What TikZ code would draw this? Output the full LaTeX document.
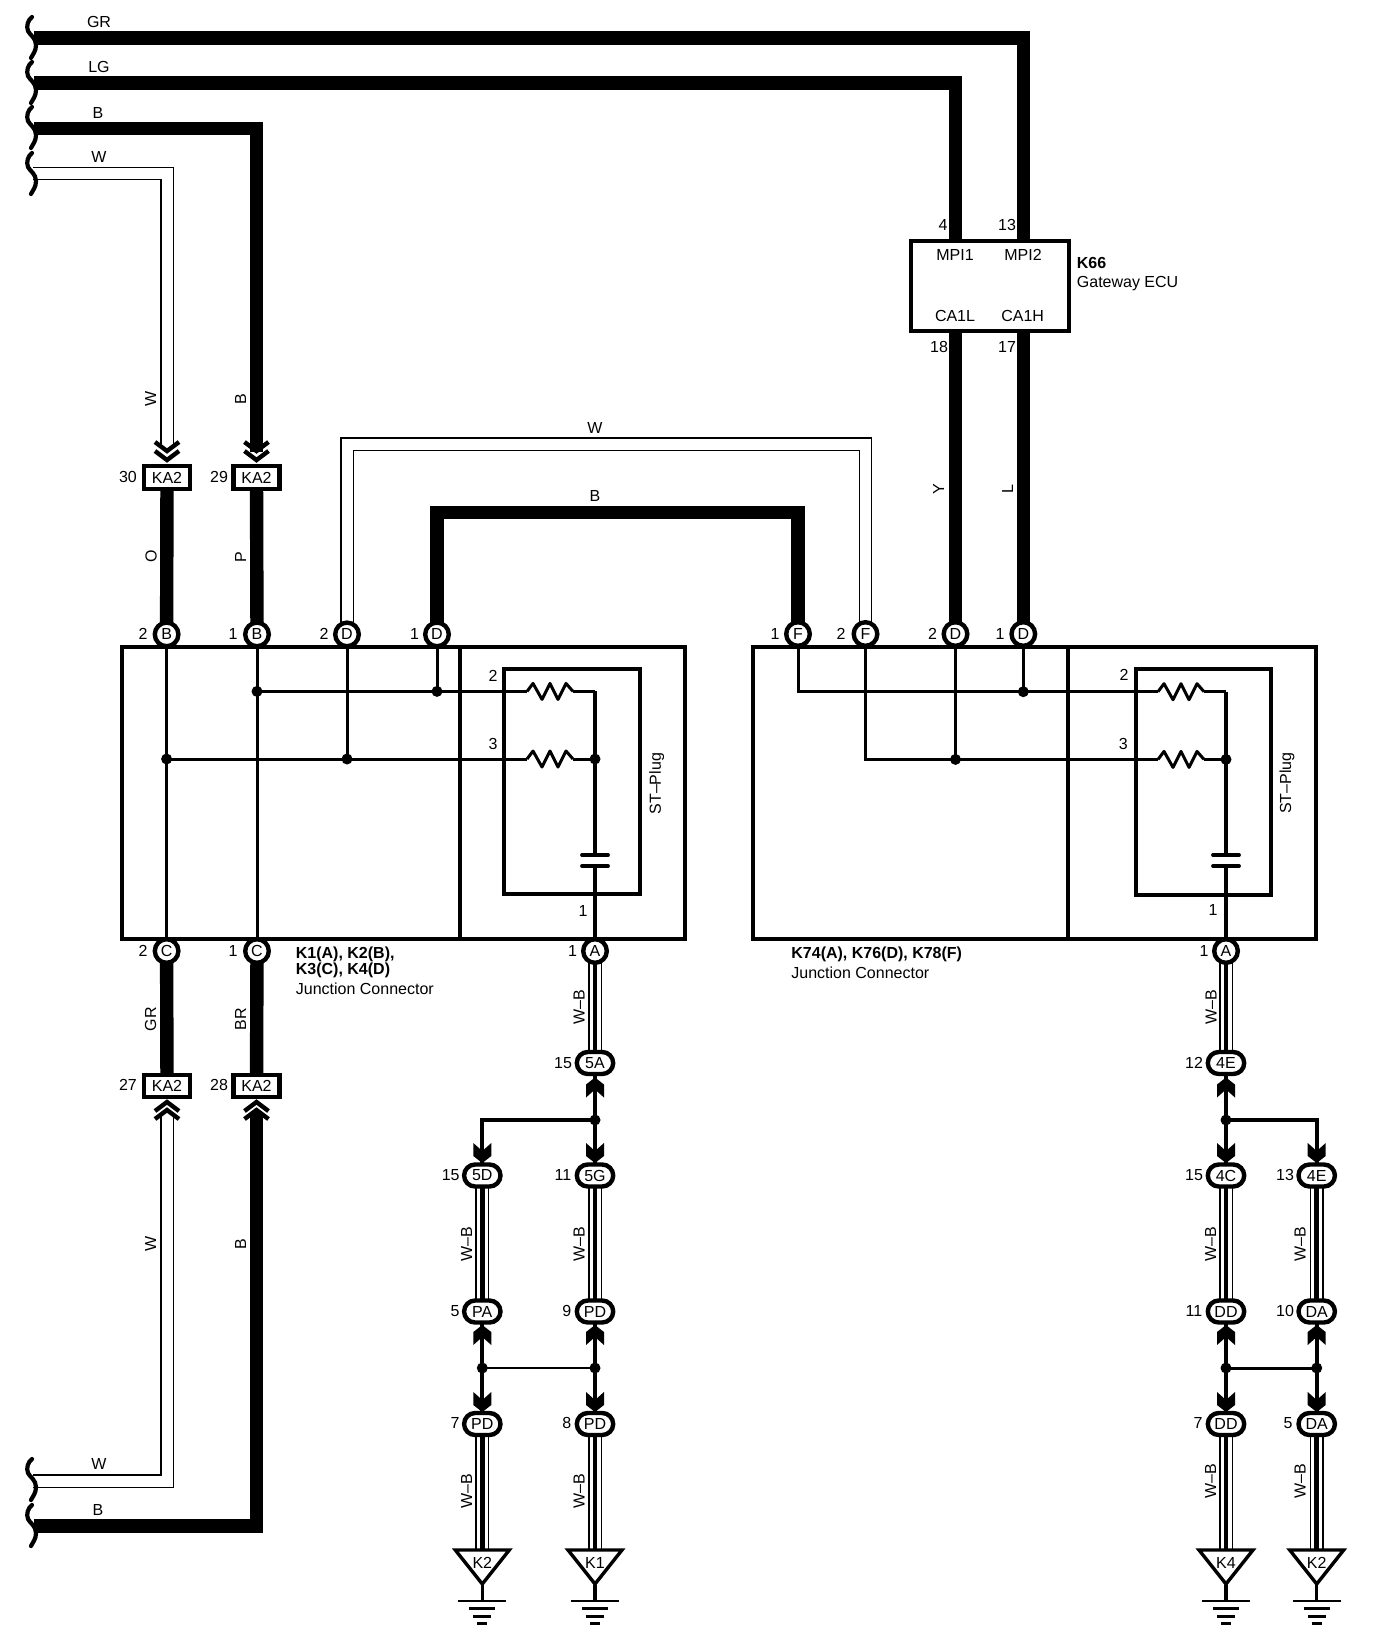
\documentclass[tikz,border=0pt]{standalone}
\usepackage{fontspec}
\setmainfont{Liberation Sans}
\usetikzlibrary{shapes.misc,backgrounds}
\newcount\tcnt
\tikzset{
  lbl/.style={inner sep=0pt,font=\fontsize{8}{9}\selectfont},
  pin/.style={circle,draw,fill=white,line width=2.2pt,minimum size=11.8pt,inner sep=0pt,font=\fontsize{8}{9}\selectfont},
  oval/.style={rounded rectangle,draw,fill=white,line width=2.2pt,minimum width=18.2pt,minimum height=11pt,inner sep=0pt,font=\fontsize{8}{9}\selectfont},
  ka/.style={rectangle,draw,fill=white,line width=2.2pt,minimum width=23pt,inner sep=0pt,font=\fontsize{8}{9}\selectfont},
  bigbox/.style={rectangle,draw,line width=2pt,inner sep=0pt},
  jdot/.style={circle,fill=black,minimum size=5.5pt,inner sep=0pt},
  hw/.style={line width=6.7pt},
  dw/.style={double,line width=.7pt,double distance=5.5pt},
  tc/.style={line width=2.25pt},
  iw/.style={line width=1.5pt},
  mw/.style={line width=2pt},
  brkline/.style={line width=2.1pt,line cap=round},
  resist/.pic={\draw[line width=1.5pt,line join=round] (0,0)--(6,-8)--(15,8)--(23,-8)--(31,8)--(39,-8)--(46,0);},
  brk/.pic={\draw[brkline] (5,0) .. controls (1,3) and (-1,9) .. (1,14) .. controls (3,18) and (9,21) .. (9,28) .. controls (9,34) and (6,37) .. (4,41);}
}
\newcommand{\lab}[3]{\global\advance\tcnt by 1 \node[lbl] (t\the\tcnt) at (#1,#2) {#3};}
\newcommand{\vlab}[3]{\global\advance\tcnt by 1 \node[lbl,rotate=90] (t\the\tcnt) at (#1,#2) {#3};}
\newcommand{\wlab}[3]{\global\advance\tcnt by 1 \node[lbl,anchor=west] (t\the\tcnt) at (#1,#2) {#3};}
\newcommand{\tripw}[2]{\draw[dw] (#1)--(#2); \draw[tc] (#1)--(#2);}
\newcommand{\chevdn}[2]{\draw[line width=2.2pt] (#1-12,#2)--(#1,#2+9)--(#1+12,#2); \draw[line width=2.2pt] (#1-12,#2+9)--(#1,#2+18)--(#1+12,#2+9);}
\newcommand{\chevup}[2]{\draw[line width=2.2pt] (#1-12,#2+9)--(#1,#2)--(#1+12,#2+9); \draw[line width=2.2pt] (#1-12,#2+17)--(#1,#2+8)--(#1+12,#2+17);}
\newcommand{\arrup}[2]{\fill (#1,#2)--++(9,7)--++(0,13)--++(-9,-8)--++(-9,8)--++(0,-13)--cycle;}
\newcommand{\arrdn}[2]{\fill (#1,#2)--++(9,-7)--++(0,-13)--++(-9,8)--++(-9,-8)--++(0,13)--cycle;}
\newcommand{\gnd}[3]{%
  \coordinate (#1) at (#2,1550);
  \draw[line width=1.7pt] (#2-27,1550)--(#2+27,1550)--(#2,1584)--cycle;
  \node[lbl] (#1t) at (#2,1563) {#3};
  \coordinate (#1s) at (#2,1585);
  \coordinate (#1g) at (#2,1601);
  \draw[line width=1.6pt] (#1s)--(#1g);
  \draw[line width=1.4pt] (#2-24,1601)--(#2+24,1601);
  \draw[line width=1.4pt] (#2-13,1608.5)--(#2+13,1608.5);
  \draw[line width=1.4pt] (#2-9,1616.5)--(#2+9,1616.5);
  \draw[line width=1.4pt] (#2-5,1623.5)--(#2+5,1623.5);
}
\begin{document}
\begin{tikzpicture}[x=0.5pt,y=-0.5pt]
\useasboundingbox (0,0) rectangle (1376,1644);
% ---------- boxes
\node[bigbox,minimum width=281.5pt,minimum height=146pt] (lbox) at (403.5,793) {};
\node[bigbox,minimum width=281.5pt,minimum height=146pt] (rbox) at (1034.6,793) {};
\node[bigbox,minimum width=68.2pt,minimum height=112.9pt] (lplug) at (572.2,781.4) {};
\node[bigbox,minimum width=67.7pt,minimum height=113pt] (rplug) at (1203.4,782) {};
\node[rectangle,draw,fill=white,line width=2pt,minimum width=79pt,minimum height=45pt,inner sep=0pt] (ecu) at (989.6,285.5) {};
\draw[line width=2pt] (460,647)--(460,939);
\draw[line width=2pt] (1068.3,647)--(1068.3,939);
% ---------- connectors
\node[ka,minimum height=11.5pt] (ka30) at (167,477.5) {KA2};
\node[ka,minimum height=11.5pt] (ka29) at (256.5,477.5) {KA2};
\node[ka,minimum height=11pt] (ka27) at (167,1085.7) {KA2};
\node[ka,minimum height=11pt] (ka28) at (256.5,1085.7) {KA2};
\node[pin] (lB2) at (166.6,634.4) {B};
\node[pin] (lB1) at (257,634.4) {B};
\node[pin] (lD2) at (347,634.4) {D};
\node[pin] (lD1) at (437,634.4) {D};
\node[pin] (lC2) at (166.6,951) {C};
\node[pin] (lC1) at (257,951) {C};
\node[pin] (lA) at (595,951) {A};
\node[pin] (rF1) at (798,634) {F};
\node[pin] (rF2) at (865.5,634) {F};
\node[pin] (rD2) at (955.5,634) {D};
\node[pin] (rD1) at (1023.3,634) {D};
\node[pin] (rA) at (1226,951) {A};
\node[oval] (o5A) at (595,1063) {5A};
\node[oval] (o5D) at (482.3,1175.5) {5D};
\node[oval] (o5G) at (595,1175.5) {5G};
\node[oval] (oPA) at (482.3,1311.5) {PA};
\node[oval] (oPD9) at (595,1311.5) {PD};
\node[oval] (oPD7) at (482.3,1424) {PD};
\node[oval] (oPD8) at (595,1424) {PD};
\node[oval] (o4E) at (1226,1063) {4E};
\node[oval] (o4C) at (1226,1175.5) {4C};
\node[oval] (o4Eb) at (1316.7,1175.5) {4E};
\node[oval] (oDD11) at (1226,1311.5) {DD};
\node[oval] (oDA10) at (1316.7,1311.5) {DA};
\node[oval] (oDD7) at (1226,1424) {DD};
\node[oval] (oDA5) at (1316.7,1424) {DA};
% ---------- junction dots
\node[jdot] (ld1) at (257,691.4) {};
\node[jdot] (ld2) at (437,691.4) {};
\node[jdot] (ld3) at (166.6,759) {};
\node[jdot] (ld4) at (347,759) {};
\node[jdot] (ld5) at (595,759) {};
\node[jdot] (rd1) at (1023.3,691.7) {};
\node[jdot] (rd2) at (955.5,759.4) {};
\node[jdot] (rd3) at (1226,759.4) {};
\node[jdot] (bd1) at (595,1120) {};
\node[jdot] (bd2) at (482.3,1368) {};
\node[jdot] (bd3) at (595,1368) {};
\node[jdot] (bd4) at (1226,1120) {};
\node[jdot] (bd5) at (1226,1368) {};
\node[jdot] (bd6) at (1316.7,1368) {};
% ---------- free coordinates
\coordinate (gr0) at (34,38); \coordinate (lg0) at (34,83); \coordinate (b0) at (34,128.5);
\coordinate (w0) at (33,173.5); \coordinate (w1) at (33,1481); \coordinate (b1) at (34,1526);
\coordinate (wT) at (167,447); \coordinate (bT) at (256.5,452);
\coordinate (wB) at (167,1115); \coordinate (bB) at (256.5,1113);
\coordinate (wtop) at (600,444); \coordinate (btop) at (600,512.3);
\coordinate (ecu4) at (955.5,245); \coordinate (ecu13) at (1023.3,245);
\coordinate (ecu18) at (955.5,325); \coordinate (ecu17) at (1023.3,325);
\coordinate (lR1) at (527,691.4); \coordinate (lR1e) at (573,691.4);
\coordinate (lR2) at (527,759); \coordinate (lR2e) at (573,759);
\coordinate (rR1) at (1158,691.7); \coordinate (rR1e) at (1204,691.7);
\coordinate (rR2) at (1158,759.4); \coordinate (rR2e) at (1204,759.4);
\coordinate (lcT) at (595,855); \coordinate (lcB) at (595,866);
\coordinate (rcT) at (1226,855); \coordinate (rcB) at (1226,866);
\coordinate (lc1) at (595,691.4); \coordinate (rc1) at (1226,691.7);
\gnd{gK2}{482.3}{K2}
\gnd{gK1}{595}{K1}
\gnd{gK4}{1226}{K4}
\gnd{gK2r}{1316.7}{K2}
% ---------- wires (behind the nodes)
\begin{pgfonlayer}{background}
\fill[white] (0,0) rectangle (1376,1644);
\draw[hw] (gr0) -| (ecu13);
\draw[hw] (lg0) -| (ecu4);
\draw[hw] (b0) -| (bT);
\draw[hw] (b1) -| (bB);
\draw[dw] (w0) -| (wT);
\draw[dw] (w1) -| (wB);
\draw[hw] (ecu18) -- (rD2.center);
\draw[hw] (ecu17) -- (rD1.center);
\draw[hw] (ka30.center) -- (lB2.center);
\draw[hw] (ka29.center) -- (lB1.center);
\draw[hw] (lC2.center) -- (ka27.center);
\draw[hw] (lC1.center) -- (ka28.center);
\draw[hw] (lD1.center) |- (btop) -| (rF1.center);
\draw[dw] (lD2.center) |- (wtop) -| (rF2.center);
% inside left block
\draw[iw] (lB2.center) -- (lC2.center);
\draw[iw] (lB1.center) -- (lC1.center);
\draw[iw] (lD2.center) -- (ld4.center);
\draw[iw] (lD1.center) -- (ld2.center);
\draw[iw] (ld1.center) -- (ld2.center) -- (lR1);
\draw[iw] (ld3.center) -- (ld4.center) -- (lR2);
\draw[iw] (lR1e) -- (lc1);
\draw[iw] (lR2e) -- (ld5.center);
\draw[line width=1.8pt] (lc1) -- (lcT);
\draw[line width=1.8pt] (lcB) -- (lA.center);
% inside right block
\draw[iw] (rF1.center) |- (rd1.center) -- (rR1);
\draw[iw] (rD1.center) -- (rd1.center);
\draw[iw] (rF2.center) |- (rd2.center) -- (rR2);
\draw[iw] (rD2.center) -- (rd2.center);
\draw[iw] (rR1e) -- (rc1);
\draw[iw] (rR2e) -- (rd3.center);
\draw[line width=1.8pt] (rc1) -- (rcT);
\draw[line width=1.8pt] (rcB) -- (rA.center);
% bottom left
\tripw{lA.center}{o5A.center}
\draw[mw] (o5A.center) -- (bd1.center) -- (o5G.center);
\draw[mw] (bd1.center) -| (o5D.center);
\tripw{o5D.center}{oPA.center}
\tripw{o5G.center}{oPD9.center}
\draw[mw] (oPA.center) -- (oPD7.center);
\draw[mw] (oPD9.center) -- (oPD8.center);
\draw[line width=1.2pt] (bd2.center) -- (bd3.center);
\tripw{oPD7.center}{gK2}
\tripw{oPD8.center}{gK1}
% bottom right
\tripw{rA.center}{o4E.center}
\draw[mw] (o4E.center) -- (bd4.center) -- (o4C.center);
\draw[mw] (bd4.center) -| (o4Eb.center);
\tripw{o4C.center}{oDD11.center}
\tripw{o4Eb.center}{oDA10.center}
\draw[mw] (oDD11.center) -- (oDD7.center);
\draw[mw] (oDA10.center) -- (oDA5.center);
\draw[line width=1.5pt] (bd5.center) -- (bd6.center);
\tripw{oDD7.center}{gK4}
\tripw{oDA5.center}{gK2r}
\end{pgfonlayer}
% ---------- resistors, capacitors
\pic at (lR1) {resist}; \pic at (lR2) {resist};
\pic at (rR1) {resist}; \pic at (rR2) {resist};
\draw[line width=1.9pt,line cap=round] (lcT)++(-13,0)--++(26,0);
\draw[line width=1.9pt,line cap=round] (lcB)++(-13,0)--++(26,0);
\draw[line width=1.9pt,line cap=round] (rcT)++(-13,0)--++(26,0);
\draw[line width=1.9pt,line cap=round] (rcB)++(-13,0)--++(26,0);
% ---------- breaks
\pic at (27,17) {brk}; \pic at (27,62) {brk}; \pic at (27,107) {brk}; \pic at (27,153) {brk};
\pic at (27,1459) {brk}; \pic at (27,1505) {brk};
% ---------- chevrons and arrows
\chevdn{167}{442} \chevdn{256.5}{442}
\chevup{167}{1102} \chevup{256.5}{1102}
\arrup{595}{1077.5} \arrdn{595}{1163} \arrdn{482.3}{1163}
\arrup{482.3}{1325} \arrup{595}{1325} \arrdn{482.3}{1412} \arrdn{595}{1412}
\arrup{1226}{1077.5} \arrdn{1226}{1163} \arrdn{1316.7}{1163}
\arrup{1226}{1325} \arrup{1316.7}{1325} \arrdn{1226}{1412} \arrdn{1316.7}{1412}
% ---------- labels
\lab{99}{22}{GR} \lab{99}{67}{LG} \lab{98}{112.7}{B} \lab{99}{157}{W}
\lab{99}{1464}{W} \lab{98}{1510}{B}
\vlab{150.7}{399}{W} \vlab{240.7}{399}{B}
\lab{128}{476.7}{30} \lab{219}{476.7}{29} \lab{128}{1085}{27} \lab{219}{1085}{28}
\vlab{151}{556.7}{O} \vlab{240.5}{556.7}{P}
\vlab{150.7}{1019}{GR} \vlab{240.7}{1019}{BR}
\vlab{150.7}{1244}{W} \vlab{240.7}{1244}{B}
\lab{595}{428}{W} \lab{595}{496}{B}
\lab{143}{634}{2} \lab{233}{634}{1} \lab{324}{634}{2} \lab{414.6}{634}{1}
\lab{143}{951}{2} \lab{233}{951}{1} \lab{572.6}{951}{1}
\lab{775}{634}{1} \lab{841}{634}{2} \lab{932.5}{634}{2} \lab{1000}{634}{1}
\lab{1204}{951}{1}
\lab{493}{676}{2} \lab{493}{743.5}{3} \lab{583}{910.7}{1}
\lab{1124}{675}{2} \lab{1123.4}{744}{3} \lab{1213}{910}{1}
\vlab{656.7}{783.7}{ST–Plug} \vlab{1287}{783}{ST–Plug}
\wlab{295.5}{954.7}{\bfseries K1(A), K2(B),}
\wlab{295.5}{970.4}{\bfseries K3(C), K4(D)}
\wlab{295.5}{988.4}{Junction Connector}
\wlab{791}{954.6}{\bfseries K74(A), K76(D), K78(F)}
\wlab{791}{973}{Junction Connector}
\lab{943}{225}{4} \lab{1007}{225}{13} \lab{939}{346.7}{18} \lab{1007}{346.7}{17}
\lab{955}{255}{MPI1} \lab{1023}{255}{MPI2} \lab{955}{316}{CA1L} \lab{1022.7}{316}{CA1H}
\wlab{1076.5}{262.7}{\bfseries K66} \wlab{1076.5}{283.7}{Gateway ECU}
\vlab{938.6}{489}{Y} \vlab{1007.5}{489}{L}
\vlab{579}{1007}{W–B} \vlab{1211}{1007}{W–B}
\lab{563}{1062.7}{15} \lab{1194}{1062.7}{12}
\lab{450.7}{1175}{15} \lab{563}{1175}{11} \lab{1194}{1175}{15} \lab{1285}{1175}{13}
\vlab{466.7}{1244}{W–B} \vlab{579}{1244}{W–B} \vlab{1210.7}{1244}{W–B} \vlab{1300}{1244}{W–B}
\lab{455}{1311}{5} \lab{566.7}{1311}{9} \lab{1194}{1311}{11} \lab{1285}{1311}{10}
\lab{455}{1423}{7} \lab{566.7}{1423}{8} \lab{1198}{1423}{7} \lab{1288}{1423}{5}
\vlab{466.7}{1491}{W–B} \vlab{579}{1491}{W–B} \vlab{1210.7}{1481}{W–B} \vlab{1300}{1481}{W–B}
\end{tikzpicture}
\end{document}
